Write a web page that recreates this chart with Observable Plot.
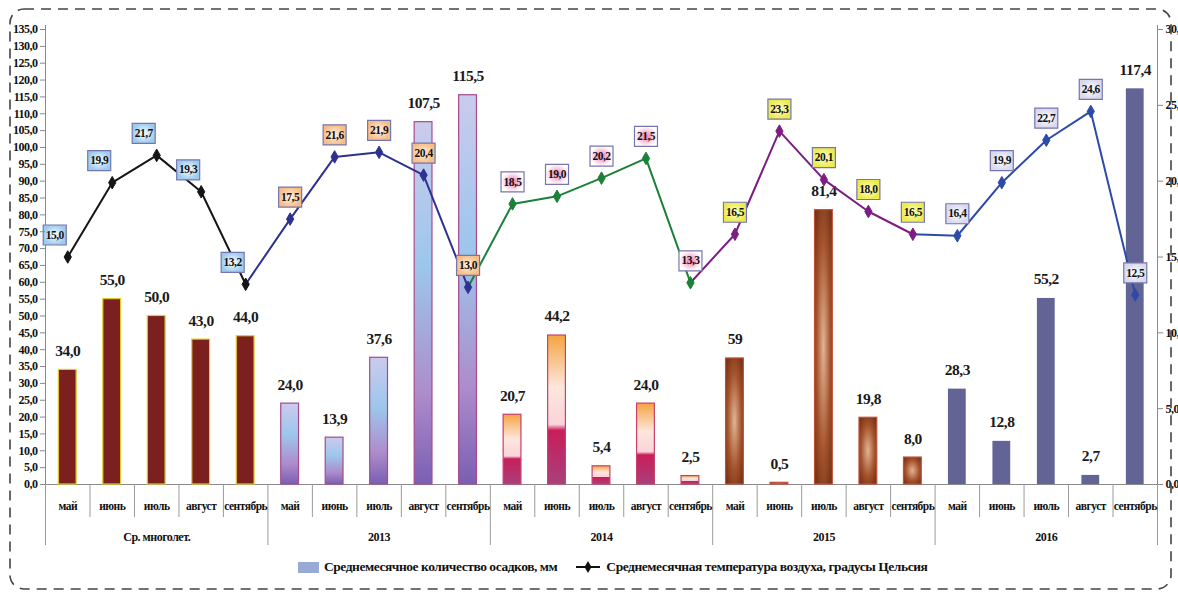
<!DOCTYPE html>
<html><head><meta charset="utf-8">
<script src="https://cdn.jsdelivr.net/npm/d3@7"></script>
<script src="https://cdn.jsdelivr.net/npm/@observablehq/plot@0.6"></script>
<style>
body{margin:0;background:#fff;width:1178px;height:594px;position:relative;overflow:hidden;font-family:'Liberation Serif',serif;}
#chart{position:absolute;left:0;top:0;}
#chart svg{overflow:hidden;}
#legend{position:absolute;top:559px;left:298px;display:flex;align-items:center;font-weight:bold;font-size:13.5px;letter-spacing:-0.45px;color:#111;white-space:nowrap;}
#frame{position:absolute;left:0;top:0;pointer-events:none;}
</style></head><body>
<div id="chart"></div>
<div id="legend"><span style="display:inline-block;width:21px;height:11px;background:#98aad6;margin-right:5px"></span><span>Среднемесячное количество осадков, мм</span><svg width="26" height="12" style="margin-left:18px;margin-right:5px"><line x1="1" x2="25" y1="6" y2="6" stroke="#111" stroke-width="2"/><path d="M13,0 L16.5,6 L13,12 L9.5,6Z" fill="#111"/></svg><span>Среднемесячная температура воздуха, градусы Цельсия</span></div>
<svg id="frame" width="1178" height="594"><rect x="10" y="9" width="1161" height="580" rx="14" fill="none" stroke="#444" stroke-width="1.6" stroke-dasharray="10 7"/></svg>
<script>
// ---- data ----
const groups = ["Ср. многолет.", "2013", "2014", "2015", "2016"];
const months = ["май", "июнь", "июль", "август", "сентябрь"];

// precipitation, mm (bar heights as drawn)
const precipAvg  = [34.0, 55.0, 50.0, 43.0, 44.0];
const precip2013 = [24.0, 13.9, 37.6, 107.5, 115.5];
const precip2014 = [20.7, 44.2, 5.4, 24.0, 2.5];
const precip2015 = [37.4, 0.5, 81.4, 19.8, 8.0];   // May bar drawn ~37 but labelled "59"
const precip2016 = [28.3, 12.8, 55.2, 2.7, 117.4];
const precipLabel2015 = ["59", "0,5", "81,4", "19,8", "8,0"];

// mean monthly air temperature, °C
const tempAvg  = [15.0, 19.9, 21.7, 19.3, 13.2];
const temp2013 = [17.5, 21.6, 21.9, 20.4, 13.0];
const temp2014 = [18.5, 19.0, 20.2, 21.5, 13.3];
const temp2015 = [16.5, 23.3, 20.1, 18.0, 16.5];
const temp2016 = [16.4, 19.9, 22.7, 24.6, 12.5];

const leftTicks = d3.range(0, 136, 5);
const rightTicks = [0, 5, 10, 15, 20, 25, 30];
const rightTickLabels = ["0,0", "5,0", "10,", "15,", "20,", "25,", "30,"];

// ---- styles ----
const precipSeries = [precipAvg, precip2013, precip2014, precip2015, precip2016];
const tempSeries = [tempAvg, temp2013, temp2014, temp2015, temp2016];
const lineColors = ["#151515", "#2e3192", "#1b8038", "#7d1d82", "#2d4aa8"];
const barFill = ["#7b1f1f", "url(#g2013)", "url(#g2014)", "url(#g2015)", "#636496"];
const barStroke = ["#e3cc2a", "#a54a90", "#c8406a", "#c0503a", "none"];
const boxFill = ["url(#bAvg)", "url(#b2013)", "url(#b2014)", "url(#b2015)", "url(#b2016)"];
const boxDx = [-13, 0, 0, 0, 0];
const T2P = 135 / 30;
const fmt = v => v.toFixed(1).replace(".", ",");

const rows = [];
groups.forEach((g, gi) => months.forEach((m, mi) => {
  const i = gi * 5 + mi;
  rows.push({i, gi, g, m, x: i + 0.5, precip: precipSeries[gi][mi], temp: tempSeries[gi][mi],
    tY: tempSeries[gi][mi] * T2P,
    plabel: gi === 3 ? precipLabel2015[mi] : fmt(precipSeries[gi][mi])});
}));

const W = 1178, H = 550, mL = 45, mR = 21, mT = 29, mB = H - 484;
const boxSymbol = {draw(ctx, size) { const h = Math.sqrt(size / Math.PI); ctx.rect(-1.15 * h, -h, 2.3 * h, 2 * h); }};

const marks = [];
// axis lines & separators
marks.push(Plot.ruleY([0], {stroke: "#8a8a8a", strokeWidth: 1}));
marks.push(Plot.ruleX([0, 25], {stroke: "#8a8a8a", insetTop: -4}));
marks.push(Plot.ruleX(d3.range(1, 25).filter(k => k % 5), {stroke: "#9a9a9a", insetTop: 484 - mT, insetBottom: -33}));
marks.push(Plot.ruleX(d3.range(0, 26, 5), {stroke: "#9a9a9a", insetTop: 484 - mT, insetBottom: -61}));

// bars
groups.forEach((g, gi) => {
  const data = rows.filter(d => d.gi === gi);
  marks.push(Plot.rectY(data, {x1: d => d.i + 0.3, x2: d => d.i + 0.7, y: "precip", fill: barFill[gi], stroke: barStroke[gi], strokeWidth: 1.2}));
});
marks.push(Plot.text(rows, {x: "x", y: "precip", text: "plabel", dy: -19, fontSize: 15.5, fill: "#1a1a1a"}));

// temperature line (segments into a group take that group's colour)
groups.forEach((g, gi) => {
  const data = rows.filter(d => d.gi === gi || (gi > 0 && d.i === gi * 5 - 1));
  marks.push(Plot.line(data, {x: "x", y: "tY", stroke: lineColors[gi], strokeWidth: 2}));
});
groups.forEach((g, gi) => {
  const data = rows.filter(d => d.gi === gi);
  marks.push(Plot.dot(data, {x: "x", y: "tY", symbol: "diamond", r: 3.8, fill: lineColors[gi], stroke: lineColors[gi], strokeWidth: 1}));
});
// temperature label boxes
groups.forEach((g, gi) => {
  const data = rows.filter(d => d.gi === gi);
  marks.push(Plot.dot(data, {x: "x", y: "tY", symbol: boxSymbol, r: 10, fill: boxFill[gi], stroke: "#7676ae", strokeWidth: 1.2, dx: boxDx[gi], dy: -22}));
  marks.push(Plot.text(data, {x: "x", y: "tY", text: d => fmt(d.temp), dx: boxDx[gi], dy: -22, fontSize: 11.5, fill: "#111"}));
});

// axes
marks.push(Plot.axisY({anchor: "left", ticks: leftTicks, tickFormat: fmt, tickSize: 5, tickPadding: 3, stroke: "#8a8a8a", fill: "#111", fontSize: 12, label: null}));
marks.push(Plot.axisY({anchor: "right", ticks: rightTicks.map(t => t * T2P), tickFormat: v => rightTickLabels[rightTicks.indexOf(Math.round(v / T2P))], tickSize: 5, tickPadding: 3, stroke: "#8a8a8a", fill: "#111", fontSize: 12, label: null}));
marks.push(Plot.text(rows, {x: "x", y: 0, text: "m", dy: 22, fontSize: 11.5, fill: "#111"}));
marks.push(Plot.text(groups.map((g, gi) => ({g, x: gi * 5 + 2.5})), {x: "x", y: 0, text: "g", dy: 53, fontSize: 12, fill: "#111"}));

const chart = Plot.plot({
  width: W, height: H,
  marginLeft: mL, marginRight: mR, marginTop: mT, marginBottom: mB,
  x: {type: "linear", domain: [0, 25], axis: null},
  y: {domain: [0, 135]},
  style: {fontFamily: "'Liberation Serif', serif", fontWeight: "bold", fontSize: "12px", letterSpacing: "-0.5px", background: "transparent", color: "#111"},
  marks
});

// gradients
const defs = `
<defs>
 <linearGradient id="g2013" x1="0" y1="0" x2="0" y2="1">
  <stop offset="0" stop-color="#cbcbec"/><stop offset="0.4" stop-color="#9cc6ec"/><stop offset="0.75" stop-color="#ad8ccb"/><stop offset="1" stop-color="#7a5fb2"/>
 </linearGradient>
 <linearGradient id="g2014" x1="0" y1="0" x2="0" y2="1">
  <stop offset="0" stop-color="#f4a442"/><stop offset="0.35" stop-color="#fde6dc"/><stop offset="0.6" stop-color="#fbd3da"/><stop offset="0.64" stop-color="#c81e5a"/><stop offset="1" stop-color="#a8407c"/>
 </linearGradient>
 <radialGradient id="g2015" cx="0.5" cy="0.5" r="0.7">
  <stop offset="0" stop-color="#e2b494"/><stop offset="0.55" stop-color="#a4532c"/><stop offset="1" stop-color="#6a2a12"/>
 </radialGradient>
 <radialGradient id="bAvg"><stop offset="0" stop-color="#ffffff"/><stop offset="1" stop-color="#9ccbee"/></radialGradient>
 <radialGradient id="b2013"><stop offset="0" stop-color="#fff2e4"/><stop offset="1" stop-color="#f7bd86"/></radialGradient>
 <radialGradient id="b2014"><stop offset="0" stop-color="#ee7cb4"/><stop offset="1" stop-color="#ffffff"/></radialGradient>
 <radialGradient id="b2015"><stop offset="0" stop-color="#ffffc8"/><stop offset="1" stop-color="#ebea4e"/></radialGradient>
 <radialGradient id="b2016"><stop offset="0" stop-color="#ffffff"/><stop offset="1" stop-color="#d8d8ee"/></radialGradient>
</defs>`;
chart.insertAdjacentHTML("afterbegin", defs);
document.getElementById("chart").appendChild(chart);
</script>
</body></html>
